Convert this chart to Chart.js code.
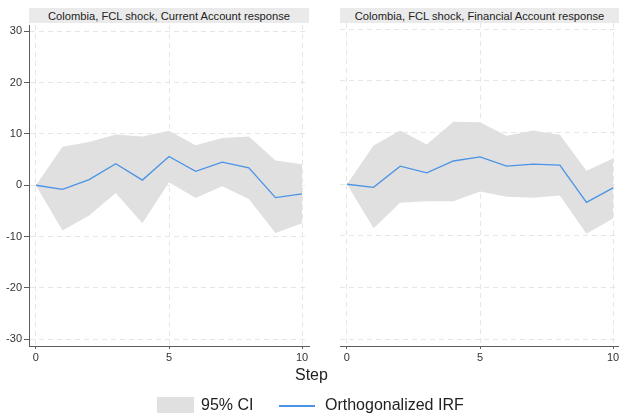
<!DOCTYPE html>
<html>
<head>
<meta charset="utf-8">
<script src="https://cdn.jsdelivr.net/npm/chart.js@4"></script>
<style>
  html, body { margin: 0; padding: 0; background: #fff; overflow: hidden; }
  body { width: 619px; height: 420px; position: relative; font-family: 'Liberation Sans', Arial, sans-serif; color: #222; }
  .strip { position: absolute; top: 8px; height: 15px; background: #eaeaea; font-size: 11.2px; line-height: 16px; text-align: center; white-space: nowrap; overflow: hidden; }
  .panel { position: absolute; top: 16px; height: 352px; width: 311px; }
  .lbl { position: absolute; font-size: 16px; white-space: nowrap; }
</style>
</head>
<body>
<div class="strip" style="left:29px;width:280px;">Colombia, FCL shock, Current Account response</div>
<div class="strip" style="left:340px;width:279px;">Colombia, FCL shock, Financial Account response</div>
<div class="panel" style="left:0;"><canvas id="chartCA"></canvas></div>
<div class="panel" style="left:311px;"><canvas id="chartFA"></canvas></div>
<div class="lbl" style="left:295px;top:366px;">Step</div>
<div style="position:absolute;left:157px;top:397px;width:37px;height:16px;background:#e0e0e0;"></div>
<div class="lbl" style="left:201px;top:396px;">95% CI</div>
<div style="position:absolute;left:279px;top:405px;width:36px;height:1.5px;background:#4a93e6;"></div>
<div class="lbl" style="left:325px;top:396px;">Orthogonalized IRF</div>

<script>
'use strict';

/* ── Data ── */
const steps = [0, 1, 2, 3, 4, 5, 6, 7, 8, 9, 10];
const yTicks = [-30, -20, -10, 0, 10, 20, 30];
const xTicks = [0, 5, 10];

const caIrf   = [0, -0.8, 1.1, 4.2, 1.0, 5.6, 2.7, 4.5, 3.4, -2.4, -1.7];
const caUpper = [0, 7.5, 8.4, 9.9, 9.5, 10.6, 7.8, 9.2, 9.5, 4.8, 4.1];
const caLower = [0, -8.8, -5.9, -1.5, -7.4, 0.6, -2.5, -0.2, -2.7, -9.3, -7.4];

const faIrf   = [0, -0.6, 3.5, 2.2, 4.5, 5.3, 3.5, 3.9, 3.7, -3.5, -0.7];
const faUpper = [0, 7.5, 10.4, 7.7, 12.1, 12.0, 9.4, 10.4, 9.6, 2.6, 5.0];
const faLower = [0, -8.5, -3.6, -3.3, -3.3, -1.4, -2.4, -2.6, -2.2, -9.6, -6.6];

const CI_COLOR = '#e0e0e0';
const IRF_COLOR = '#4a93e6';
const GRID_COLOR = '#e6e6e6';
const AXIS_COLOR = '#5c5c5c';

Chart.defaults.font.family = "'Liberation Sans', Arial, sans-serif";
Chart.defaults.font.size = 11;
Chart.defaults.color = '#333';

const pts = (vals) => steps.map((s, i) => ({ x: s, y: vals[i] }));

// IRF first so it is drawn on top of the CI band
const makeChart = (id, irf, upper, lower, showY) => new Chart(document.getElementById(id), {
  type: 'line',
  data: {
    datasets: [
      { data: pts(irf), borderColor: IRF_COLOR, borderWidth: 1.3, pointRadius: 0, fill: false, tension: 0 },
      { data: pts(lower), borderWidth: 0, pointRadius: 0, fill: false, tension: 0 },
      { data: pts(upper), borderWidth: 0, pointRadius: 0, fill: '-1', backgroundColor: CI_COLOR, tension: 0 },
    ],
  },
  options: {
    responsive: true,
    maintainAspectRatio: false,
    animation: false,
    layout: { padding: { top: showY ? 0 : 7, right: 2, bottom: 0, left: 0 } },
    plugins: { legend: { display: false }, tooltip: { enabled: false } },
    scales: {
      x: {
        type: 'linear', min: -0.26, max: 10.26,
        afterBuildTicks: (s) => { s.ticks = xTicks.map(v => ({ value: v })); },
        afterFit: (s) => { s.height = 22; },
        grid: { color: GRID_COLOR, tickColor: AXIS_COLOR, tickLength: 3, lineWidth: 1 },
        border: { color: AXIS_COLOR, width: 1, dash: [5, 4] },
        ticks: { padding: 2, color: '#333', maxRotation: 0 },
      },
      y: {
        min: -31.3, max: 31.2,
        afterBuildTicks: (s) => { s.ticks = yTicks.map(v => ({ value: v })); },
        afterFit: (s) => { s.width = 29; },
        grid: { color: GRID_COLOR, tickColor: AXIS_COLOR, tickLength: showY ? 5 : 0, drawTicks: showY },
        border: { display: showY, color: AXIS_COLOR, width: 1, dash: [5, 4] },
        ticks: { display: showY, padding: 2, color: '#333', font: { size: 11, lineHeight: 14 / 11 } },
      },
    },
  },
});

makeChart('chartCA', caIrf, caUpper, caLower, true);
makeChart('chartFA', faIrf, faUpper, faLower, false);
</script>
</body>
</html>
